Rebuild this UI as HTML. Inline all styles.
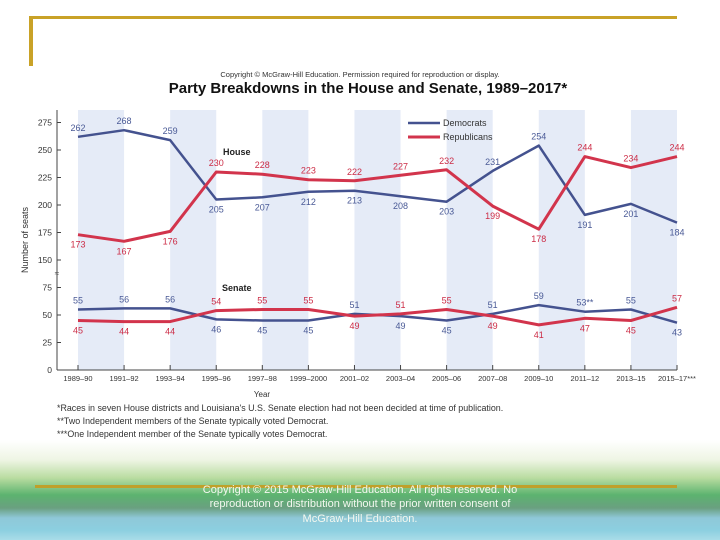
<!DOCTYPE html>
<html><head><meta charset="utf-8">
<style>
html,body{margin:0;padding:0;width:720px;height:540px;overflow:hidden;background:#fff;font-family:"Liberation Sans",sans-serif;}
#bg{position:absolute;left:0;top:0;width:720px;height:540px;background:linear-gradient(to bottom,#fff 0px,#fff 440px,#eef5e4 460px,#b9dca0 478px,#5cb36f 495px,#6aa080 508px,#8fc8d8 518px,#8ccfe0 530px,#a9dce8 540px);}
svg{position:absolute;left:0;top:0;}
</style></head><body>
<div id="bg"></div>
<svg id="chart" width="720" height="540">
<g>
<rect x="29" y="16" width="648" height="3" fill="#c9a227"/>
<rect x="29" y="16" width="4" height="50" fill="#c9a227"/>
<rect x="35" y="485" width="642" height="3" fill="#bfa02a"/>
</g>
<g id="bands"></g>
<text x="360" y="77" font-size="7.5" text-anchor="middle" fill="#333">Copyright © McGraw-Hill Education. Permission required for reproduction or display.</text>
<text x="368" y="93" font-size="15" font-weight="bold" text-anchor="middle" fill="#111">Party Breakdowns in the House and Senate, 1989–2017*</text>
<g id="axes"></g>
<g id="series"></g>
<g id="labels"></g>
<text x="223" y="155" font-size="9" font-weight="bold" fill="#222">House</text>
<text x="222" y="291" font-size="9" font-weight="bold" fill="#222">Senate</text>
<g>
<line x1="408" y1="123" x2="440" y2="123" stroke="#44528f" stroke-width="2.5"/>
<text x="443" y="126" font-size="9" fill="#333">Democrats</text>
<line x1="408" y1="137" x2="440" y2="137" stroke="#d2344c" stroke-width="3"/>
<text x="443" y="140" font-size="9" fill="#333">Republicans</text>
</g>
<text transform="translate(28,240) rotate(-90)" font-size="9" text-anchor="middle" fill="#333">Number of seats</text>
<text x="262" y="397" font-size="8" text-anchor="middle" fill="#333">Year</text>
<g font-size="8.9" fill="#333">
<text x="57" y="411">*Races in seven House districts and Louisiana's U.S. Senate election had not been decided at time of publication.</text>
<text x="57" y="424">**Two Independent members of the Senate typically voted Democrat.</text>
<text x="57" y="437">***One Independent member of the Senate typically votes Democrat.</text>
</g>
<g font-size="11" fill="#f4f8f0" text-anchor="middle">
<text x="360" y="493">Copyright © 2015 McGraw-Hill Education. All rights reserved. No</text>
<text x="360" y="507">reproduction or distribution without the prior written consent of</text>
<text x="360" y="522">McGraw-Hill Education.</text>
</g>
</svg>
<script>
const categories=["1989–90","1991–92","1993–94","1995–96","1997–98","1999–2000","2001–02","2003–04","2005–06","2007–08","2009–10","2011–12","2013–15","2015–17***"];
const houseDem=[262,268,259,205,207,212,213,208,203,231,254,191,201,184];
const houseRep=[173,167,176,230,228,223,222,227,232,199,178,244,234,244];
const senateDem=[55,56,56,46,45,45,51,49,45,51,59,53,55,43];
const senateRep=[45,44,44,54,55,55,49,51,55,49,41,47,45,57];
const senateDemLabels=["55","56","56","46","45","45","51","49","45","51","59","53**","55","43"];
const houseTicks=[150,175,200,225,250,275];
const senateTicks=[0,25,50,75];
const NS="http://www.w3.org/2000/svg";
const X0=78,X1=677,Y0=370,K=1.1;
function xs(i){return X0+(X1-X0)*i/(categories.length-1);}
function ySen(v){return Y0-v*K;}
function yHouse(v){return Y0-(v-50)*K;}
function mk(tag,attrs,parent){const e=document.createElementNS(NS,tag);for(const k in attrs)e.setAttribute(k,attrs[k]);parent.appendChild(e);return e;}
const bands=document.getElementById('bands'),axes=document.getElementById('axes'),series=document.getElementById('series'),labels=document.getElementById('labels');
for(let i=0;i+1<categories.length;i+=2){
 const r=mk('rect',{x:xs(i),y:110,width:xs(i+1)-xs(i),height:Y0-110,fill:'#e5ebf7'},bands);
 
 
}
mk('line',{x1:57,y1:110,x2:57,y2:Y0,stroke:'#444','stroke-width':1},axes);
mk('line',{x1:57,y1:Y0,x2:X1,y2:Y0,stroke:'#444','stroke-width':1},axes);
mk('text',{x:57,y:276,'font-size':8,'text-anchor':'middle',fill:'#444'},axes).textContent='≈';
function ytick(y,lab,name){
 mk('line',{x1:57,y1:y,x2:61,y2:y,stroke:'#444'},axes);
 const t=mk('text',{x:52,y:y+3,'font-size':8.5,'text-anchor':'end',fill:'#333'},axes);
 t.textContent=lab;
 
 
}
houseTicks.forEach(v=>ytick(yHouse(v),v,'y-tick-house-'+v));
senateTicks.forEach(v=>ytick(ySen(v),v,'y-tick-senate-'+v));
categories.forEach((c,i)=>{
 mk('line',{x1:xs(i),y1:Y0,x2:xs(i),y2:Y0-5,stroke:'#444'},axes);
 const t=mk('text',{x:xs(i),y:381,'font-size':7.5,'text-anchor':'middle',fill:'#333'},axes);
 t.textContent=c;
 
 
});
function line(vals,yf,color,w,name){
 const p=mk('polyline',{points:vals.map((v,i)=>xs(i)+','+yf(v)).join(' '),fill:'none',stroke:color,'stroke-width':w,'stroke-linejoin':'round'},series);
 
 
}
line(houseDem,yHouse,'#44528f',2.5,'house-democrats-line');
line(houseRep,yHouse,'#d2344c',3,'house-republicans-line');
line(senateDem,ySen,'#44528f',2.5,'senate-democrats-line');
line(senateRep,ySen,'#d2344c',3,'senate-republicans-line');
function lab(vals,other,yf,color,texts,name){
 vals.forEach((v,i)=>{
  const above=v>=other[i];
  const t=mk('text',{x:xs(i),y:yf(v)+(above?-6:13),'font-size':9,'text-anchor':'middle',fill:color},labels);
  t.textContent=texts?texts[i]:v;
  
  
 });
}
lab(houseDem,houseRep,yHouse,'#4a5a96',null,'house-dem-label');
lab(houseRep,houseDem,yHouse,'#cc2c46',null,'house-rep-label');
lab(senateDem,senateRep,ySen,'#4a5a96',senateDemLabels,'senate-dem-label');
lab(senateRep,senateDem,ySen,'#cc2c46',null,'senate-rep-label');
</script>
</body></html>
